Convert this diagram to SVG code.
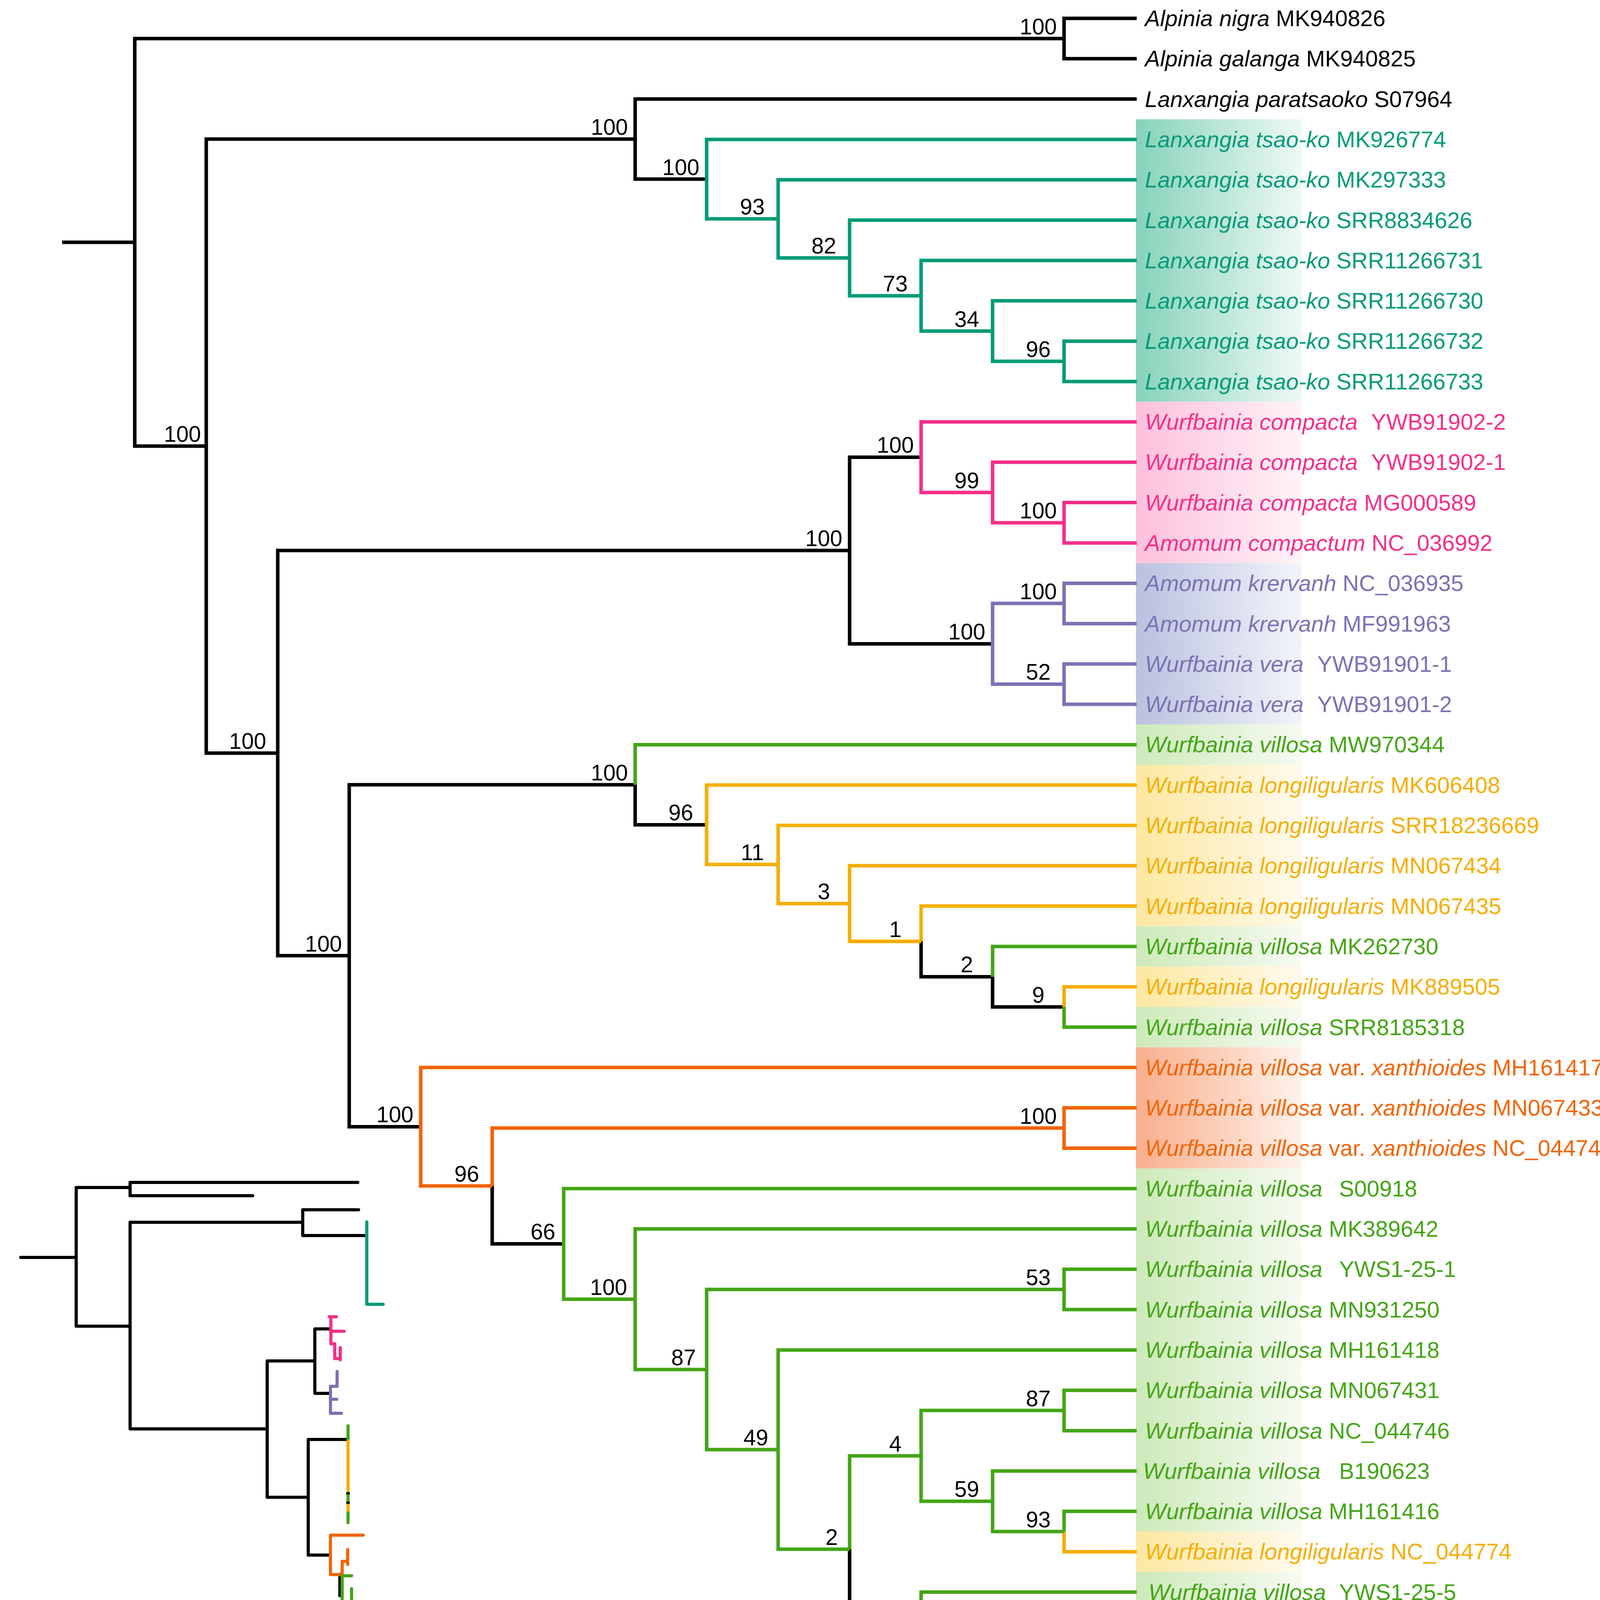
<svg xmlns="http://www.w3.org/2000/svg" width="4182" height="4586" viewBox="0 0 4182 4586">
<defs>
<style>
.e{fill:none;stroke-width:9;stroke-linejoin:miter;stroke-linecap:butt}
.m{fill:none;stroke-width:8;stroke-linejoin:round;stroke-linecap:round}
.k{stroke:#000}.t{stroke:#009b77}.p{stroke:#f52e8a}.u{stroke:#7a72b4}.g{stroke:#44a516}.y{stroke:#f5ae00}.o{stroke:#f26405}
.lab{font-family:"Liberation Sans",Arial,sans-serif;font-size:58px}
.lab .i{font-style:italic}
.bs{font-family:"Liberation Sans",Arial,sans-serif;font-size:57px;fill:#000;text-anchor:middle}
.ck{fill:#000}.ct{fill:#009b77}.cp{fill:#f52e8a}.cu{fill:#7a72b4}.cg{fill:#44a516}.cy{fill:#f5ae00}.co{fill:#f26405}
</style>
<linearGradient id="gt" gradientUnits="userSpaceOnUse" x1="2908" y1="0" x2="3332" y2="0"><stop offset="0" stop-color="#86d2bb"/><stop offset="1" stop-color="#eef9f5"/></linearGradient>
<linearGradient id="gp" gradientUnits="userSpaceOnUse" x1="2908" y1="0" x2="3332" y2="0"><stop offset="0" stop-color="#fdc0db"/><stop offset="1" stop-color="#fff3f8"/></linearGradient>
<linearGradient id="gu" gradientUnits="userSpaceOnUse" x1="2908" y1="0" x2="3332" y2="0"><stop offset="0" stop-color="#b9c1de"/><stop offset="1" stop-color="#f3f4fa"/></linearGradient>
<linearGradient id="gg" gradientUnits="userSpaceOnUse" x1="2908" y1="0" x2="3332" y2="0"><stop offset="0" stop-color="#cde9b9"/><stop offset="1" stop-color="#f6fbf2"/></linearGradient>
<linearGradient id="gy" gradientUnits="userSpaceOnUse" x1="2908" y1="0" x2="3332" y2="0"><stop offset="0" stop-color="#fde7a0"/><stop offset="1" stop-color="#fffaec"/></linearGradient>
<linearGradient id="go" gradientUnits="userSpaceOnUse" x1="2908" y1="0" x2="3332" y2="0"><stop offset="0" stop-color="#f8ae8c"/><stop offset="1" stop-color="#fff1ea"/></linearGradient>
</defs>
<rect width="4182" height="4586" fill="#fff"/>
<g id="highlights">
<rect x="2908" y="305.25" width="424" height="723.1" fill="url(#gt)"/>
<rect x="2908" y="1028.35" width="424" height="413.2" fill="url(#gp)"/>
<rect x="2908" y="1441.55" width="424" height="413.2" fill="url(#gu)"/>
<rect x="2908" y="1854.75" width="424" height="103.3" fill="url(#gg)"/>
<rect x="2908" y="1958.05" width="424" height="413.2" fill="url(#gy)"/>
<rect x="2908" y="2371.25" width="424" height="103.3" fill="url(#gg)"/>
<rect x="2908" y="2474.55" width="424" height="103.3" fill="url(#gy)"/>
<rect x="2908" y="2577.85" width="424" height="103.3" fill="url(#gg)"/>
<rect x="2908" y="2681.15" width="424" height="309.9" fill="url(#go)"/>
<rect x="2908" y="2991.05" width="424" height="929.7" fill="url(#gg)"/>
<rect x="2908" y="3920.75" width="424" height="103.3" fill="url(#gy)"/>
<rect x="2908" y="4024.05" width="424" height="516.5" fill="url(#gg)"/>
</g>
<g id="connectors">
<path class="e k" d="M159,620.3 H345 M345,620.3 V98.65 H2724 M345,620.3 V1142 H528 M2724,98.65 V47 H2910 M2724,98.65 V150.3 H2910 M528,1142 V356.1 H1626 M528,1142 V1928 H711 M1626,356.1 V253.6 H2910 M1626,356.1 V458.6 H1809 M711,1928 V1409.3 H2175 M711,1928 V2446.6 H894 M2175,1409.3 V1170.4 H2358 M2175,1409.3 V1648.15 H2541 M894,2446.6 V2008.9 H1626 M894,2446.6 V2884.4 H1077 M1626,2008.9 V2111.4 H1809 M2358,2410 V2500.4 H2541 M2541,2500.4 V2577.85 H2724 M1260,3036 V3184.3 H1443 M2175,3965.95 V4204.8 H2358"/>
<path class="e t" d="M1809,458.6 V356.9 H2910 M1809,458.6 V560.3 H1992 M1992,560.3 V460.2 H2910 M1992,560.3 V660.3 H2175 M2175,660.3 V563.5 H2910 M2175,660.3 V757.2 H2358 M2358,757.2 V666.8 H2910 M2358,757.2 V847.6 H2541 M2541,847.6 V770.1 H2910 M2541,847.6 V925.05 H2724 M2724,925.05 V873.4 H2910 M2724,925.05 V976.7 H2910"/>
<path class="e p" d="M2358,1170.4 V1080 H2910 M2358,1170.4 V1260.8 H2541 M2541,1260.8 V1183.3 H2910 M2541,1260.8 V1338.25 H2724 M2724,1338.25 V1286.6 H2910 M2724,1338.25 V1389.9 H2910"/>
<path class="e u" d="M2541,1648.15 V1544.85 H2724 M2541,1648.15 V1751.45 H2724 M2724,1544.85 V1493.2 H2910 M2724,1544.85 V1596.5 H2910 M2724,1751.45 V1699.8 H2910 M2724,1751.45 V1803.1 H2910"/>
<path class="e y" d="M1809,2111.4 V2009.7 H2910 M1809,2111.4 V2213.1 H1992 M1992,2213.1 V2113 H2910 M1992,2213.1 V2313.2 H2175 M2175,2313.2 V2216.3 H2910 M2175,2313.2 V2410 H2358 M2358,2410 V2319.6 H2910 M2724,2577.85 V2526.2 H2910 M2724,3920.75 V3972.4 H2910"/>
<path class="e o" d="M1077,2884.4 V2732.8 H2910 M1077,2884.4 V3036 H1260 M1260,3036 V2887.75 H2724 M2724,2887.75 V2836.1 H2910 M2724,2887.75 V2939.4 H2910"/>
<path class="e g" d="M1626,2008.9 V1906.4 H2910 M2541,2500.4 V2422.9 H2910 M2724,2577.85 V2629.5 H2910 M1443,3184.3 V3042.7 H2910 M1443,3184.3 V3326 H1626 M1626,3326 V3146 H2910 M1626,3326 V3505.9 H1809 M1809,3505.9 V3300.95 H2724 M1809,3505.9 V3710.9 H1992 M2724,3300.95 V3249.3 H2910 M2724,3300.95 V3352.6 H2910 M1992,3710.9 V3455.9 H2910 M1992,3710.9 V3965.95 H2175 M2175,3965.95 V3727.1 H2358 M2358,3727.1 V3610.85 H2724 M2358,3727.1 V3843.3 H2541 M2724,3610.85 V3559.2 H2910 M2724,3610.85 V3662.5 H2910 M2541,3843.3 V3765.8 H2910 M2541,3843.3 V3920.75 H2724 M2724,3920.75 V3869.1 H2910 M2358,4204.8 V4075.7 H2910 M2358,4204.8 V4333.95 H2541 M2541,4333.95 V4230.65 H2724 M2541,4333.95 V4437.25 H2724 M2724,4230.65 V4179 H2910 M2724,4230.65 V4282.3 H2910 M2724,4437.25 V4385.6 H2910 M2724,4437.25 V4488.9 H2910"/>
</g>
<g id="leaves" class="lab">
<g id="leaf-0"><text x="2931" y="67" class="ck"><tspan class="i">Alpinia nigra</tspan> MK940826</text></g>
<g id="leaf-1"><text x="2931" y="170.3" class="ck"><tspan class="i">Alpinia galanga</tspan> MK940825</text></g>
<g id="leaf-2"><text x="2931" y="273.6" class="ck"><tspan class="i">Lanxangia paratsaoko</tspan> S07964</text></g>
<g id="leaf-3"><text x="2931" y="376.9" class="ct"><tspan class="i">Lanxangia tsao-ko</tspan> MK926774</text></g>
<g id="leaf-4"><text x="2931" y="480.2" class="ct"><tspan class="i">Lanxangia tsao-ko</tspan> MK297333</text></g>
<g id="leaf-5"><text x="2931" y="583.5" class="ct"><tspan class="i">Lanxangia tsao-ko</tspan> SRR8834626</text></g>
<g id="leaf-6"><text x="2931" y="686.8" class="ct"><tspan class="i">Lanxangia tsao-ko</tspan> SRR11266731</text></g>
<g id="leaf-7"><text x="2931" y="790.1" class="ct"><tspan class="i">Lanxangia tsao-ko</tspan> SRR11266730</text></g>
<g id="leaf-8"><text x="2931" y="893.4" class="ct"><tspan class="i">Lanxangia tsao-ko</tspan> SRR11266732</text></g>
<g id="leaf-9"><text x="2931" y="996.7" class="ct"><tspan class="i">Lanxangia tsao-ko</tspan> SRR11266733</text></g>
<g id="leaf-10"><text x="2931" y="1100" class="cp"><tspan class="i">Wurfbainia compacta</tspan><tspan x="3510">YWB91902-2</tspan></text></g>
<g id="leaf-11"><text x="2931" y="1203.3" class="cp"><tspan class="i">Wurfbainia compacta</tspan><tspan x="3510">YWB91902-1</tspan></text></g>
<g id="leaf-12"><text x="2931" y="1306.6" class="cp"><tspan class="i">Wurfbainia compacta</tspan> MG000589</text></g>
<g id="leaf-13"><text x="2931" y="1409.9" class="cp"><tspan class="i">Amomum compactum</tspan> NC_036992</text></g>
<g id="leaf-14"><text x="2931" y="1513.2" class="cu"><tspan class="i">Amomum krervanh</tspan> NC_036935</text></g>
<g id="leaf-15"><text x="2931" y="1616.5" class="cu"><tspan class="i">Amomum krervanh</tspan> MF991963</text></g>
<g id="leaf-16"><text x="2931" y="1719.8" class="cu"><tspan class="i">Wurfbainia vera</tspan><tspan x="3372">YWB91901-1</tspan></text></g>
<g id="leaf-17"><text x="2931" y="1823.1" class="cu"><tspan class="i">Wurfbainia vera</tspan><tspan x="3372">YWB91901-2</tspan></text></g>
<g id="leaf-18"><text x="2931" y="1926.4" class="cg"><tspan class="i">Wurfbainia villosa</tspan> MW970344</text></g>
<g id="leaf-19"><text x="2931" y="2029.7" class="cy"><tspan class="i">Wurfbainia longiligularis</tspan> MK606408</text></g>
<g id="leaf-20"><text x="2931" y="2133" class="cy"><tspan class="i">Wurfbainia longiligularis</tspan> SRR18236669</text></g>
<g id="leaf-21"><text x="2931" y="2236.3" class="cy"><tspan class="i">Wurfbainia longiligularis</tspan> MN067434</text></g>
<g id="leaf-22"><text x="2931" y="2339.6" class="cy"><tspan class="i">Wurfbainia longiligularis</tspan> MN067435</text></g>
<g id="leaf-23"><text x="2931" y="2442.9" class="cg"><tspan class="i">Wurfbainia villosa</tspan> MK262730</text></g>
<g id="leaf-24"><text x="2931" y="2546.2" class="cy"><tspan class="i">Wurfbainia longiligularis</tspan> MK889505</text></g>
<g id="leaf-25"><text x="2931" y="2649.5" class="cg"><tspan class="i">Wurfbainia villosa</tspan> SRR8185318</text></g>
<g id="leaf-26"><text x="2931" y="2752.8" class="co"><tspan class="i">Wurfbainia villosa</tspan> var. <tspan class="i">xanthioides</tspan> MH161417</text></g>
<g id="leaf-27"><text x="2931" y="2856.1" class="co"><tspan class="i">Wurfbainia villosa</tspan> var. <tspan class="i">xanthioides</tspan> MN067433</text></g>
<g id="leaf-28"><text x="2931" y="2959.4" class="co"><tspan class="i">Wurfbainia villosa</tspan> var. <tspan class="i">xanthioides</tspan> NC_044747</text></g>
<g id="leaf-29"><text x="2931" y="3062.7" class="cg"><tspan class="i">Wurfbainia villosa</tspan><tspan x="3428">S00918</tspan></text></g>
<g id="leaf-30"><text x="2931" y="3166" class="cg"><tspan class="i">Wurfbainia villosa</tspan> MK389642</text></g>
<g id="leaf-31"><text x="2931" y="3269.3" class="cg"><tspan class="i">Wurfbainia villosa</tspan><tspan x="3428">YWS1-25-1</tspan></text></g>
<g id="leaf-32"><text x="2931" y="3372.6" class="cg"><tspan class="i">Wurfbainia villosa</tspan> MN931250</text></g>
<g id="leaf-33"><text x="2931" y="3475.9" class="cg"><tspan class="i">Wurfbainia villosa</tspan> MH161418</text></g>
<g id="leaf-34"><text x="2931" y="3579.2" class="cg"><tspan class="i">Wurfbainia villosa</tspan> MN067431</text></g>
<g id="leaf-35"><text x="2931" y="3682.5" class="cg"><tspan class="i">Wurfbainia villosa</tspan> NC_044746</text></g>
<g id="leaf-36"><text x="2926" y="3785.8" class="cg"><tspan class="i">Wurfbainia villosa</tspan><tspan x="3428">B190623</tspan></text></g>
<g id="leaf-37"><text x="2931" y="3889.1" class="cg"><tspan class="i">Wurfbainia villosa</tspan> MH161416</text></g>
<g id="leaf-38"><text x="2931" y="3992.4" class="cy"><tspan class="i">Wurfbainia longiligularis</tspan> NC_044774</text></g>
<g id="leaf-39"><text x="2940" y="4095.7" class="cg"><tspan class="i">Wurfbainia villosa</tspan><tspan x="3428">YWS1-25-5</tspan></text></g>
<g id="leaf-40"><text x="2931" y="4199" class="cg"><tspan class="i">Wurfbainia villosa</tspan> SRR17607617</text></g>
<g id="leaf-41"><text x="2943" y="4302.3" class="cg"><tspan class="i">Wurfbainia villosa</tspan><tspan x="3428">B190641</tspan></text></g>
<g id="leaf-42"><text x="2943" y="4405.6" class="cg"><tspan class="i">Wurfbainia villosa</tspan><tspan x="3428">B190333</tspan></text></g>
<g id="leaf-43"><text x="2931" y="4508.9" class="cg"><tspan class="i">Wurfbainia villosa</tspan> MN067432</text></g>
</g>
<g id="support" class="bs">
<g id="node-alp"><text x="2658" y="88">100</text></g>
<g id="node-B"><text x="467" y="1131">100</text></g>
<g id="node-C"><text x="1560" y="345">100</text></g>
<g id="node-E"><text x="1743" y="447.6">100</text></g>
<g id="node-F"><text x="1926" y="549.3">93</text></g>
<g id="node-G"><text x="2109" y="649.3">82</text></g>
<g id="node-H"><text x="2292" y="746.2">73</text></g>
<g id="node-I"><text x="2475" y="836.6">34</text></g>
<g id="node-J"><text x="2658" y="914">96</text></g>
<g id="node-D"><text x="634" y="1917">100</text></g>
<g id="node-K"><text x="2109" y="1398.3">100</text></g>
<g id="node-M"><text x="2292" y="1159.4">100</text></g>
<g id="node-O"><text x="2475" y="1249.8">99</text></g>
<g id="node-P"><text x="2658" y="1327.25">100</text></g>
<g id="node-N"><text x="2475" y="1637.15">100</text></g>
<g id="node-Q"><text x="2658" y="1533.85">100</text></g>
<g id="node-R"><text x="2658" y="1740.45">52</text></g>
<g id="node-L"><text x="828" y="2435.6">100</text></g>
<g id="node-S"><text x="1560" y="1997.9">100</text></g>
<g id="node-U"><text x="1743" y="2100.4">96</text></g>
<g id="node-V"><text x="1926" y="2202.1">11</text></g>
<g id="node-W"><text x="2109" y="2302.2">3</text></g>
<g id="node-X"><text x="2292" y="2399">1</text></g>
<g id="node-Y"><text x="2475" y="2489.4">2</text></g>
<g id="node-Z"><text x="2658" y="2566.85">9</text></g>
<g id="node-T"><text x="1011" y="2873.4">100</text></g>
<g id="node-AA"><text x="1195" y="3025">96</text></g>
<g id="node-AB"><text x="2658" y="2876.75">100</text></g>
<g id="node-AC"><text x="1390" y="3173.3">66</text></g>
<g id="node-AD"><text x="1558" y="3315">100</text></g>
<g id="node-AE"><text x="1750" y="3494.9">87</text></g>
<g id="node-AF"><text x="2658" y="3290">53</text></g>
<g id="node-AG"><text x="1935" y="3700">49</text></g>
<g id="node-AH"><text x="2129" y="3955">2</text></g>
<g id="node-AI"><text x="2292" y="3716">4</text></g>
<g id="node-AK"><text x="2658" y="3600">87</text></g>
<g id="node-AL"><text x="2475" y="3832.3">59</text></g>
<g id="node-AM"><text x="2658" y="3909.75">93</text></g>
<g id="node-AJ"><text x="2303" y="4193.8">1</text></g>
<g id="node-AN"><text x="2494" y="4323">3</text></g>
<g id="node-AO"><text x="2658" y="4219.65">11</text></g>
<g id="node-AP"><text x="2674" y="4426.25">3</text></g>
</g>
<g id="inset-tree">
<path class="m k" d="M53,3219 H195 M333,3040 H195 V3395 H333 M333,3027 V3061 M333,3027 H916 M333,3061 H647 M333,3129 V3658 M333,3129 H775 M333,3658 H684 M775,3097 V3163 M775,3097 H918 M775,3163 H939 M684,3484 V3833 M684,3484 H806 M684,3833 H789 M806,3402 V3567 M806,3402 H847 M806,3567 H846 M789,3685 V3981 M789,3685 H891 M789,3981 H846 M870,4030 V4085"/>
<path class="m t" d="M939,3128 V3339 H981"/>
<path class="m p" d="M847,3371 V3440 M843,3371 H861 M847,3408 H881 M847,3440 H857 V3478 H871 M871,3450 V3481"/>
<path class="m u" d="M846,3549 V3618 H874 M846,3582 H862 M846,3549 H863 V3511"/>
<path class="m g" d="M891,3650 V3688 M891,3820 V3850 M891,3868 V3898"/>
<path class="m y" d="M891,3690 V3816 M891,3852 V3866"/>
<path class="m o" d="M930,3930 H846 V4031 H876 V3997 H890 M890,3967 V4005"/>
<path class="m g" d="M900,4034 H876 V4131 H900 M900,4067 V4518 M900,4102 H944"/>
<path d="M900,4330 V4346" stroke="#f5ae00" stroke-width="9" fill="none"/>
<path d="M900,4346 V4378 M891,3820 V3826 M891,3844 V3850" stroke="#000" stroke-width="9" fill="none"/>
</g>
<g id="tree-scale">
<text x="179" y="4355" font-family="Liberation Sans,Arial,sans-serif" font-size="65" font-weight="bold">Tree scale</text>
<text x="651" y="4330" font-family="Liberation Sans,Arial,sans-serif" font-size="63" font-weight="bold" text-anchor="middle">0.001</text>
<path d="M535,4357 H770" stroke="#000" stroke-width="12" stroke-linecap="round" fill="none"/>
</g>
</svg>
